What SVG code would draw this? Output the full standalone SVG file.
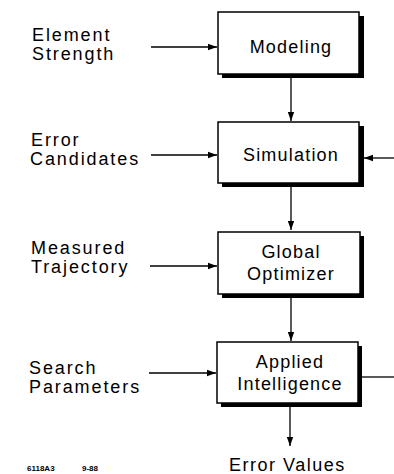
<svg xmlns="http://www.w3.org/2000/svg" width="394" height="474" viewBox="0 0 394 474">
<style>
.lbl{font-family:"Liberation Sans",Arial,sans-serif;font-size:18px;letter-spacing:1.9px;fill:#000}
.box{font-family:"Liberation Sans",Arial,sans-serif;font-size:18px;letter-spacing:1.2px;fill:#000;text-anchor:middle}
.sm{font-family:"Liberation Sans",Arial,sans-serif;font-size:8px;font-weight:bold;fill:#000}
.shadow{fill:#000}
.frame{fill:#fff;stroke:#000;stroke-width:1.5}
.ln{stroke:#000;stroke-width:1.3;fill:none}
</style>
<defs>
<marker id="ah" markerWidth="10" markerHeight="8" refX="9" refY="4" orient="auto" markerUnits="userSpaceOnUse">
<path d="M0,0.8 L9,4 L0,7.2 Z" fill="#000"/>
</marker>
</defs>
<rect width="394" height="474" fill="#fff"/>
<g id="connectors">
<line class="ln" x1="151" y1="47" x2="217" y2="47" marker-end="url(#ah)"/>
<line class="ln" x1="291" y1="78" x2="291" y2="121" marker-end="url(#ah)"/>
<line class="ln" x1="151" y1="155" x2="217" y2="155" marker-end="url(#ah)"/>
<line class="ln" x1="394" y1="158" x2="364" y2="158" marker-end="url(#ah)"/>
<line class="ln" x1="291" y1="187" x2="291" y2="230" marker-end="url(#ah)"/>
<line class="ln" x1="150" y1="266" x2="217" y2="266" marker-end="url(#ah)"/>
<line class="ln" x1="291" y1="298" x2="291" y2="341" marker-end="url(#ah)"/>
<line class="ln" x1="149" y1="373" x2="216" y2="373" marker-end="url(#ah)"/>
<line class="ln" x1="362" y1="377" x2="394" y2="377"/>
<line class="ln" x1="290" y1="407" x2="290" y2="446" marker-end="url(#ah)"/>
</g>
<g id="modeling">
<rect class="shadow" x="222" y="16" width="142" height="62"/>
<rect class="frame" x="218" y="12" width="141" height="62"/>
<text class="box" x="291" y="53">Modeling</text>
</g>
<g id="simulation">
<rect class="shadow" x="222" y="126" width="142" height="61"/>
<rect class="frame" x="218" y="122" width="141" height="61"/>
<text class="box" x="291" y="161">Simulation</text>
</g>
<g id="global-optimizer">
<rect class="shadow" x="222" y="236" width="142" height="62"/>
<rect class="frame" x="218" y="232" width="142" height="62"/>
<text class="box" x="291" y="258">Global</text>
<text class="box" x="291" y="280">Optimizer</text>
</g>
<g id="applied-intelligence">
<rect class="shadow" x="221" y="346" width="141" height="61"/>
<rect class="frame" x="217" y="342" width="141" height="61"/>
<text class="box" x="290" y="368">Applied</text>
<text class="box" x="290" y="390">Intelligence</text>
</g>
<g id="inputs">
<text class="lbl" x="32" y="41">Element</text>
<text class="lbl" x="32" y="60">Strength</text>
<text class="lbl" x="31" y="146">Error</text>
<text class="lbl" x="30" y="165">Candidates</text>
<text class="lbl" x="31" y="254">Measured</text>
<text class="lbl" x="31" y="273">Trajectory</text>
<text class="lbl" x="29" y="374">Search</text>
<text class="lbl" x="29" y="393">Parameters</text>
</g>
<g id="output">
<text class="lbl" x="229" y="471" style="letter-spacing:1.5px">Error Values</text>
</g>
<g id="caption">
<text class="sm" x="27" y="471">6118A3</text>
<text class="sm" x="82" y="471">9-88</text>
</g>
</svg>
